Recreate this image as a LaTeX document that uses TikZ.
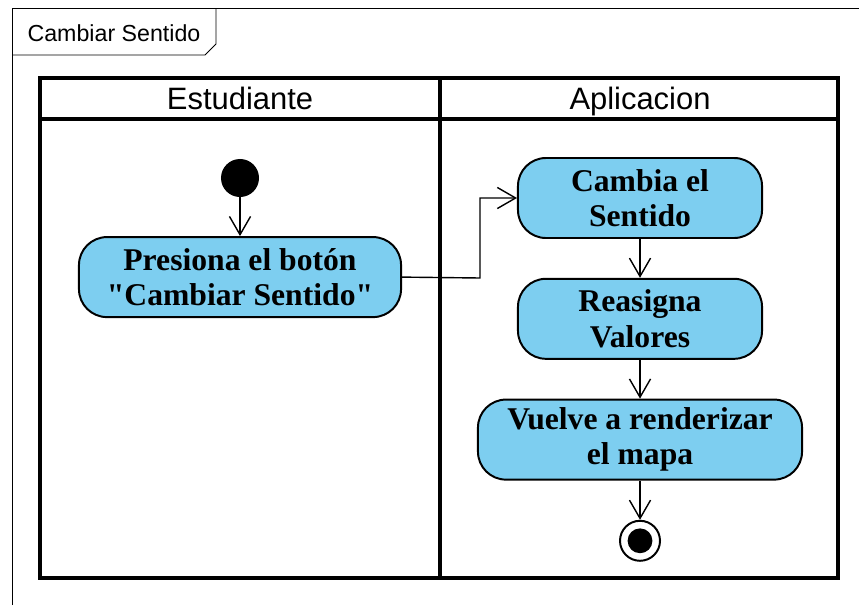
\documentclass[tikz,border=0pt]{standalone}
\usepackage{fontspec}
\setmainfont{Liberation Serif}
\setsansfont{Liberation Sans}
\usetikzlibrary{arrows.meta, shapes, positioning, calc}
\definecolor{actblue}{RGB}{125,206,240}

\begin{document}
\begin{tikzpicture}[x=0.025cm, y=-0.025cm, node distance=0.97cm and 1cm, >={Straight Barb[length=13pt,width=15pt,line width=1pt]},
    every action/.style={draw, line width=1.4pt, fill=actblue, rounded corners=0.7cm, minimum height=2cm, align=center,
        font=\bfseries\fontsize{22.5}{25}\selectfont},
    action/.style={every action},
    flow/.style={->, line width=1pt},
    lane/.style={draw, line width=2.4pt},
    lanehead/.style={font=\sffamily\fontsize{22}{24}\selectfont, text height=16pt, text depth=4pt}]
    \useasboundingbox (0,0) rectangle (859,605);
    \fill[white] (0,0) rectangle (859,605);

    % frame and tab
    \draw[line width=0.7pt] (12,605) -- (12,8) -- (859,8);
    \draw[line width=0.7pt] (12,55) -- (205,55) -- (216,44) -- (216,8);
    \node[font=\sffamily\fontsize{16.5}{18}\selectfont] (title) at (114,33) {Cambiar Sentido};

    % swimlanes
    \draw[lane] (40,78) rectangle (838,578);
    \draw[lane] (40,119) -- (838,119);
    \draw[lane] (440,78) -- (440,578);
    \node[lanehead] (est) at (240,101) {Estudiante};
    \node[lanehead] (app) at (640,101) {Aplicacion};

    % nodes
    \node [circle, fill, minimum size=0.95cm, inner sep=0pt] (ini) at (240,178) {};
    \node [action, minimum width=8.05cm] (pres) [below=of ini] {Presiona el botón\\\textquotedbl Cambiar Sentido\textquotedbl};
    \node [action, minimum width=6.1cm] (camb) at (640,198) {Cambia el\\Sentido};
    \node [action, minimum width=6.1cm] (reas) [below=of camb] {Reasigna\\Valores};
    \node [action, minimum width=8.1cm] (rend) [below=of reas] {Vuelve a renderizar\\el mapa};
    \node [circle, draw, line width=1.4pt, minimum size=1cm, inner sep=0pt] (fin) [below=0.98cm of rend] {};
    \node [circle, fill, minimum size=0.62cm, inner sep=0pt] (finc) at (fin) {};
    \coordinate (bend) at (480,278);

    % edges
    \draw[flow] (ini) -- (pres);
    \draw[flow] (pres.east) -- (bend) |- (camb.west);
    \draw[flow] (camb) -- (reas);
    \draw[flow] (reas) -- (rend);
    \draw[flow] (rend) -- (fin);
\end{tikzpicture}
\end{document}
